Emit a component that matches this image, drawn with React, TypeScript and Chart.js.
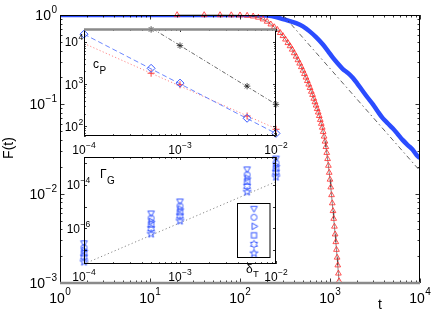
import React, { useEffect, useRef } from 'react';
import { Chart, registerables } from 'chart.js';

Chart.register(...registerables);

const FONT = '"Liberation Sans", Arial, Helvetica, sans-serif';

// ---------------- main panel: F(t) ----------------
const redT = [20, 40, 60, 80, 100, 120, 140, 160, 180, 200, 220, 240, 260, 280, 300, 320, 340, 360, 380, 400,
  420, 440, 460, 480, 500, 520, 540, 560, 580, 600, 620, 640, 660, 680, 700, 720, 740, 760, 780, 800,
  820, 840, 860, 880, 900, 920, 940, 960, 980, 1000, 1020, 1040, 1060, 1080, 1100, 1120, 1140, 1160, 1180, 1200,
  1220, 1240, 1260];
const redF = [1.0, 1.0, 0.999, 0.997, 0.993, 0.984, 0.966, 0.937, 0.896, 0.844, 0.787, 0.733, 0.684, 0.631, 0.583, 0.533, 0.487, 0.449, 0.411, 0.375,
  0.343, 0.313, 0.287, 0.262, 0.239, 0.219, 0.2, 0.183, 0.167, 0.153, 0.139, 0.128, 0.116, 0.106, 0.0973, 0.0889, 0.0813, 0.0743, 0.0672, 0.0608,
  0.055, 0.0493, 0.0437, 0.0384, 0.0334, 0.0287, 0.0245, 0.0206, 0.0172, 0.0144, 0.0118, 0.00966, 0.00783, 0.00641, 0.00525, 0.00429, 0.00351, 0.00288, 0.00236, 0.00193,
  0.00158, 0.00128, 0.00105];

const blueT = [1, 100, 150, 200, 250, 300, 350, 420, 500, 590, 700, 830, 950, 1070, 1200, 1380, 1600, 1790, 2000, 2300,
  2600, 3000, 3400, 3850, 4400, 4970, 5700, 6400, 7300, 8300, 9200, 10000];
const blueF = [1, 1, 0.998, 0.985, 0.95, 0.9, 0.86, 0.81, 0.745, 0.66, 0.565, 0.47, 0.395, 0.335, 0.292, 0.25, 0.222, 0.198, 0.172, 0.142,
  0.12, 0.1, 0.083, 0.07, 0.061, 0.054, 0.046, 0.04, 0.035, 0.031, 0.027, 0.025];

const powerLawT = [300, 10000];
const powerLawF = [1.0, 0.018];

const mainXTicks = [1, 10, 100, 1000, 10000];
const mainXExp = ['0', '1', '2', '3', '4'];
const mainYTicks = [1, 0.1, 0.01, 0.001];
const mainYExp = ['0', '−1', '−2', '−3'];

// ---------------- inset 1: c_P vs delta ----------------
const deltaCP = [1e-4, 5e-4, 1e-3, 5e-3, 1e-2];
const cpDiamond = [15100, 2350, 1050, 155, 68];
const cpPlus = [null, 1800, 960, 175, 85];
const cpStar = [null, 19500, 8100, 890, 330];
const cpFitDelta = [1e-4, 1e-2];
const cpFitBlue = [15100, 67.6];
const cpFitRed = [9100, 88];
const cpFitBlack = [200000, 331];

const in1XTicks = [1e-4, 1e-3, 1e-2];
const in1XExp = ['−4', '−3', '−2'];
const in1YTicks = [100, 1000, 10000];
const in1YExp = ['2', '3', '4'];

// ---------------- inset 2: Gamma_G vs delta_T ----------------
const deltaG = [1e-4, 5e-4, 1e-3, 5e-3, 1e-2];
const gTriDown = [2.14e-7, 5.1e-6, 1.82e-5, 5.5e-4, 1.74e-3];
const gCircle = [1.29e-7, 2.95e-6, 1.07e-5, 2.95e-4, 1.05e-3];
const gTriRight = [9.5e-8, 2.09e-6, 7.8e-6, 2.09e-4, 7.8e-4];
const gSquare = [7.1e-8, 1.51e-6, 5.6e-6, 1.45e-4, 5.8e-4];
const gHexagram = [4.7e-8, 9.5e-7, 3.7e-6, 8.7e-5, 3.9e-4];
const gPentagram = [2.8e-8, 5.5e-7, 2.19e-6, 4.8e-5, 2.34e-4];
const gFitDelta = [1e-4, 1e-2];
const gFit = [2.24e-8, 1.41e-4];

const in2XTicks = [1e-4, 1e-3, 1e-2];
const in2XExp = ['−4', '−3', '−2'];
const in2YMajor = [1e-3, 1e-4, 1e-5, 1e-6, 1e-7];
const in2YTicks = [1e-4, 1e-6];
const in2YExp = ['−4', '−6'];

const gKinds = ['triDown', 'circle', 'triRight', 'square', 'hexagram', 'pentagram'];

// ---------------- helpers ----------------
function pts(xs: number[], ys: (number | null)[]) {
  const out: { x: number; y: number }[] = [];
  xs.forEach((x, i) => {
    const y = ys[i];
    if (y !== null && y !== undefined) out.push({ x, y });
  });
  return out;
}

function minorTicks(lo: number, hi: number): number[] {
  const out: number[] = [];
  for (let k = Math.floor(Math.log10(lo)) - 1; k <= Math.ceil(Math.log10(hi)); k++) {
    for (let m = 2; m <= 9; m++) {
      const v = m * Math.pow(10, k);
      if (v > lo * 1.0001 && v < hi * 0.9999) out.push(v);
    }
  }
  return out;
}

function pow10(ctx: CanvasRenderingContext2D, exp: string, x: number, base: number,
  align: 'center' | 'right' | 'base', bs: number, es: number, raise: number) {
  ctx.save();
  ctx.fillStyle = '#000';
  ctx.textBaseline = 'alphabetic';
  ctx.textAlign = 'left';
  ctx.font = `${bs}px ${FONT}`;
  const w1 = ctx.measureText('10').width;
  ctx.font = `${es}px ${FONT}`;
  const w2 = ctx.measureText(exp).width;
  let x0 = x - w1;
  if (align === 'center') x0 = x - (w1 + w2 + 0.5) / 2;
  else if (align === 'right') x0 = x - (w1 + w2 + 0.5);
  ctx.font = `${bs}px ${FONT}`;
  ctx.fillText('10', x0, base);
  ctx.font = `${es}px ${FONT}`;
  ctx.fillText(exp, x0 + w1 + 0.5, base - raise);
  ctx.restore();
}

function drawTicks(chart: any, xs: number[], ys: number[], len: number) {
  const ctx: CanvasRenderingContext2D = chart.ctx;
  const { left, right, top, bottom } = chart.chartArea;
  const sx = chart.scales.x;
  const sy = chart.scales.y;
  ctx.beginPath();
  xs.forEach((v) => {
    const p = Math.round(sx.getPixelForValue(v)) + 0.5;
    ctx.moveTo(p, bottom); ctx.lineTo(p, bottom - len);
    ctx.moveTo(p, top); ctx.lineTo(p, top + len);
  });
  ys.forEach((v) => {
    const p = Math.round(sy.getPixelForValue(v)) + 0.5;
    ctx.moveTo(left, p); ctx.lineTo(left + len, p);
    ctx.moveTo(right, p); ctx.lineTo(right - len, p);
  });
  ctx.stroke();
}

function text(ctx: CanvasRenderingContext2D, s: string, x: number, y: number, size: number, align: CanvasTextAlign = 'left') {
  ctx.save();
  ctx.fillStyle = '#000';
  ctx.font = `${size}px ${FONT}`;
  ctx.textAlign = align;
  ctx.textBaseline = 'alphabetic';
  ctx.fillText(s, x, y);
  ctx.restore();
}

function makeMarker(kind: string, color: string): HTMLCanvasElement {
  const S = 11, m = S / 2;
  const c = document.createElement('canvas');
  c.width = S; c.height = S;
  const g = c.getContext('2d')!;
  g.strokeStyle = color;
  g.lineWidth = 1;
  const poly = (p: number[][]) => {
    g.beginPath();
    p.forEach(([x, y], i) => (i ? g.lineTo(x, y) : g.moveTo(x, y)));
    g.closePath();
    g.stroke();
  };
  const star = (n: number, ro: number, ri: number) => {
    const p: number[][] = [];
    for (let i = 0; i < 2 * n; i++) {
      const r = i % 2 ? ri : ro;
      const a = (i * Math.PI) / n;
      p.push([m + r * Math.sin(a), m - r * Math.cos(a)]);
    }
    poly(p);
  };
  switch (kind) {
    case 'triDown': { const r = 3.8; poly([[m, m + r], [m - r * 0.866, m - r / 2], [m + r * 0.866, m - r / 2]]); break; }
    case 'triRight': { const r = 3.8; poly([[m + r, m], [m - r / 2, m - r * 0.866], [m - r / 2, m + r * 0.866]]); break; }
    case 'circle': g.beginPath(); g.arc(m, m, 3, 0, Math.PI * 2); g.stroke(); break;
    case 'square': g.strokeRect(m - 2.6, m - 2.6, 5.2, 5.2); break;
    case 'hexagram': star(6, 4, 2.31); break;
    case 'pentagram': star(5, 4.2, 1.7); break;
  }
  return c;
}

const baseOptions = (padding: any, xr: number[], yr: number[]) => ({
  responsive: false,
  animation: false as const,
  devicePixelRatio: 1,
  events: [] as any[],
  layout: { padding },
  plugins: { legend: { display: false }, tooltip: { enabled: false } },
  scales: {
    x: { type: 'logarithmic' as const, display: false, min: xr[0], max: xr[1], bounds: 'data' as const },
    y: { type: 'logarithmic' as const, display: false, min: yr[0], max: yr[1], bounds: 'data' as const },
  },
});

const whiteArea = {
  id: 'whiteArea',
  beforeDatasetsDraw(chart: any) {
    const { left, right, top, bottom } = chart.chartArea;
    chart.ctx.save();
    chart.ctx.fillStyle = '#fff';
    chart.ctx.fillRect(left, top, right - left, bottom - top);
    chart.ctx.restore();
  },
};

export default function App() {
  const mainRef = useRef<HTMLCanvasElement>(null);
  const in1Ref = useRef<HTMLCanvasElement>(null);
  const in2Ref = useRef<HTMLCanvasElement>(null);

  useEffect(() => {
    const charts: Chart[] = [];
    const BLUE = '#3556ff';
    const markers = gKinds.map((k) => makeMarker(k, BLUE));

    // ---------- main ----------
    const mainDeco = {
      id: 'mainDeco',
      beforeDraw(chart: any) {
        const ctx = chart.ctx;
        ctx.save(); ctx.fillStyle = '#fff'; ctx.fillRect(0, 0, chart.width, chart.height); ctx.restore();
      },
      afterDatasetsDraw(chart: any) {
        const ctx: CanvasRenderingContext2D = chart.ctx;
        const { left, right, top, bottom } = chart.chartArea;
        const sx = chart.scales.x, sy = chart.scales.y;
        ctx.save();
        ctx.strokeStyle = '#000';
        ctx.lineWidth = 0.8;
        drawTicks(chart, mainXTicks, mainYTicks, 4.5);
        drawTicks(chart, minorTicks(1, 10000), minorTicks(0.001, 1), 2.5);
        ctx.lineWidth = 1;
        ctx.beginPath();
        ctx.moveTo(left + 0.5, bottom); ctx.lineTo(left + 0.5, top + 0.5);
        ctx.lineTo(right - 0.5, top + 0.5); ctx.lineTo(right - 0.5, bottom);
        ctx.stroke();
        ctx.strokeStyle = '#8a8a8a';
        ctx.lineWidth = 2.5;
        ctx.beginPath(); ctx.moveTo(left, bottom); ctx.lineTo(right, bottom); ctx.stroke();
        mainXTicks.forEach((v, i) => pow10(ctx, mainXExp[i], sx.getPixelForValue(v), bottom + 20, 'center', 14, 10, 8));
        mainYTicks.forEach((v, i) => pow10(ctx, mainYExp[i], left - 3, sy.getPixelForValue(v) + 5, 'right', 14, 10, 7));
        ctx.save();
        ctx.translate(13, 148);
        ctx.rotate(-Math.PI / 2);
        text(ctx, 'F(t)', 0, 0, 14, 'center');
        ctx.restore();
        text(ctx, 't', 380, 309, 14, 'center');
        ctx.restore();
      },
    };

    charts.push(new Chart(mainRef.current!, {
      type: 'scatter',
      data: {
        datasets: [
          {
            data: pts(redT, redF), showLine: true, borderColor: '#333', borderWidth: 0.6,
            pointStyle: 'triangle', pointRadius: 3.3, pointBorderColor: '#ff2a2a',
            pointBackgroundColor: 'rgba(0,0,0,0)', pointBorderWidth: 0.8, clip: false as any,
          },
          {
            data: pts(powerLawT, powerLawF), showLine: true, borderColor: '#3a3a3a', borderWidth: 0.8,
            borderDash: [5, 3, 1.5, 3], pointRadius: 0, clip: 0 as any,
          },
          {
            data: pts(blueT, blueF), showLine: true, borderColor: '#2b4cff', borderWidth: 4.5,
            pointRadius: 0, clip: 0 as any, cubicInterpolationMode: 'monotone', borderJoinStyle: 'round',
          },
        ] as any,
      },
      options: baseOptions({ left: 60, top: 15, right: 16, bottom: 33 }, [1, 10000], [0.001, 1]) as any,
      plugins: [mainDeco],
    }));

    // ---------- inset 1 ----------
    const in1Deco = {
      id: 'in1Deco',
      afterDatasetsDraw(chart: any) {
        const ctx: CanvasRenderingContext2D = chart.ctx;
        const { left, right, top, bottom } = chart.chartArea;
        const sx = chart.scales.x, sy = chart.scales.y;
        ctx.save();
        ctx.strokeStyle = '#000';
        ctx.lineWidth = 0.8;
        drawTicks(chart, in1XTicks, in1YTicks, 3);
        drawTicks(chart, minorTicks(1e-4, 1e-2), minorTicks(59, 20000), 1.8);
        ctx.lineWidth = 1;
        ctx.beginPath();
        ctx.moveTo(left + 0.5, top); ctx.lineTo(left + 0.5, bottom - 0.5);
        ctx.lineTo(right - 0.5, bottom - 0.5); ctx.lineTo(right - 0.5, top);
        ctx.stroke();
        ctx.strokeStyle = '#8a8a8a';
        ctx.lineWidth = 2.5;
        ctx.beginPath(); ctx.moveTo(left, top + 0.5); ctx.lineTo(right, top + 0.5); ctx.stroke();
        in1XTicks.forEach((v, i) => pow10(ctx, in1XExp[i], sx.getPixelForValue(v), bottom + 18, 'center', 12, 8.5, 6));
        in1YTicks.forEach((v, i) => pow10(ctx, in1YExp[i], left - 6, sy.getPixelForValue(v) + 4.5, 'base', 12, 8.5, 6));
        text(ctx, 'c', left + 9, top + 39, 12);
        text(ctx, 'P', left + 15.5, top + 44.5, 10);
        ctx.restore();
      },
    };

    charts.push(new Chart(in1Ref.current!, {
      type: 'scatter',
      data: {
        datasets: [
          {
            data: pts(deltaCP, cpDiamond), pointStyle: 'rectRot', pointRadius: 4, pointBorderColor: '#3a5cff',
            pointBackgroundColor: 'rgba(0,0,0,0)', pointBorderWidth: 1, clip: false as any,
          },
          {
            data: pts(deltaCP, cpPlus), pointStyle: 'cross', pointRadius: 3.5, pointBorderColor: '#ff2a2a',
            pointBorderWidth: 0.9, clip: false as any,
          },
          {
            data: pts(deltaCP, cpStar), pointStyle: 'star', pointRadius: 3.2, pointBorderColor: '#222',
            pointBorderWidth: 0.8, clip: false as any,
          },
          {
            data: pts(cpFitDelta, cpFitBlue), showLine: true, borderColor: '#5a78ff', borderWidth: 0.9,
            borderDash: [5, 3], pointRadius: 0, clip: 0 as any,
          },
          {
            data: pts(cpFitDelta, cpFitRed), showLine: true, borderColor: '#ff8a8a', borderWidth: 1,
            borderDash: [1.2, 2.2], pointRadius: 0, clip: 0 as any,
          },
          {
            data: pts(cpFitDelta, cpFitBlack), showLine: true, borderColor: '#444', borderWidth: 0.8,
            borderDash: [4, 2, 1, 2], pointRadius: 0, clip: 0 as any,
          },
        ] as any,
      },
      options: baseOptions({ left: 44, top: 9, right: 24, bottom: 34 }, [1e-4, 1e-2], [59, 20000]) as any,
      plugins: [whiteArea, in1Deco],
    }));

    // ---------- inset 2 ----------
    const in2Deco = {
      id: 'in2Deco',
      afterDatasetsDraw(chart: any) {
        const ctx: CanvasRenderingContext2D = chart.ctx;
        const { left, right, top, bottom } = chart.chartArea;
        const sx = chart.scales.x, sy = chart.scales.y;
        ctx.save();
        ctx.strokeStyle = '#000';
        ctx.lineWidth = 0.8;
        drawTicks(chart, in2XTicks, in2YMajor, 3);
        drawTicks(chart, minorTicks(1e-4, 1e-2), [], 1.8);
        ctx.lineWidth = 1;
        ctx.strokeRect(left + 0.5, top + 0.5, right - left - 1, bottom - top - 1);
        in2XTicks.forEach((v, i) => pow10(ctx, in2XExp[i], sx.getPixelForValue(v), bottom + 17, 'center', 12, 8.5, 6));
        in2YTicks.forEach((v, i) => pow10(ctx, in2YExp[i], left - 4, sy.getPixelForValue(v) + 4.5, 'base', 12, 8.5, 6));
        text(ctx, 'Γ', left + 16, top + 21, 12);
        text(ctx, 'G', left + 23, top + 27, 10);
        text(ctx, 'δ', left + 162, bottom + 9, 12);
        text(ctx, 'T', left + 169, bottom + 13, 9.5);
        // legend box (markers only)
        const bx = left + 153.5, by = top + 46.5;
        ctx.lineWidth = 1;
        ctx.strokeStyle = '#000';
        ctx.strokeRect(bx, by, 32.5, 54);
        markers.forEach((mk, i) => {
          ctx.drawImage(mk, left + 170 - mk.width / 2, top + 51.3 + 9 * i - mk.height / 2);
        });
        ctx.restore();
      },
    };

    const gSeries = [gTriDown, gCircle, gTriRight, gSquare, gHexagram, gPentagram];
    const gSets: any[] = gSeries.map((ys, i) => ({
      data: pts(deltaG, ys), pointStyle: markers[i], pointRadius: 4, clip: false,
    }));
    gSets.push({
      data: pts(gFitDelta, gFit), showLine: true, borderColor: '#8a8a8a', borderWidth: 1,
      borderDash: [1.2, 2.5], pointRadius: 0, clip: 0,
    });

    charts.push(new Chart(in2Ref.current!, {
      type: 'scatter',
      data: { datasets: gSets },
      options: baseOptions({ left: 44, top: 7, right: 24, bottom: 26 }, [1e-4, 1e-2], [2.24e-8, 1.95e-3]) as any,
      plugins: [whiteArea, in2Deco],
    }));

    return () => charts.forEach((c) => c.destroy());
  }, []);

  return (
    <div style={{ position: 'fixed', left: 0, top: 0, width: 436, height: 316, background: '#fff', overflow: 'hidden' }}>
      <canvas ref={mainRef} width={436} height={316} style={{ position: 'absolute', left: 0, top: 0 }} />
      <canvas ref={in1Ref} width={260} height={150} style={{ position: 'absolute', left: 40, top: 20 }} />
      <canvas ref={in2Ref} width={260} height={140} style={{ position: 'absolute', left: 40, top: 150 }} />
    </div>
  );
}
